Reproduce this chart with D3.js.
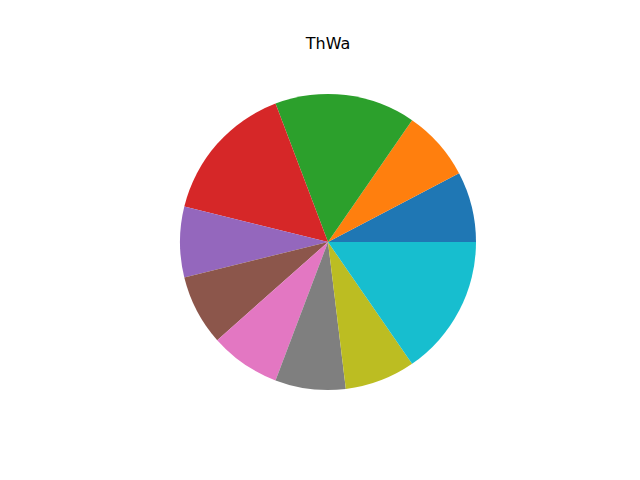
<!DOCTYPE html>
<html>
<head>
<meta charset="utf-8">
<script src="https://cdn.jsdelivr.net/npm/d3@7"></script>
<style>
html,body{margin:0;padding:0;background:#fff;}
svg{display:block;}
</style>
</head>
<body>
<svg id="chart" width="640" height="480"></svg>
<script>
const title = "ThWa";
const categories = ["A","B","C","D","E","F","G","H","I","J"];
const values = [1,1,2,2,1,1,1,1,1,2];
const colors = ["#1f77b4","#ff7f0e","#2ca02c","#d62728","#9467bd","#8c564b","#e377c2","#7f7f7f","#bcbd22","#17becf"];

const svg = d3.select("#chart");
const cx = 328, cy = 242, r = 148;

const pie = d3.pie().sort(null).value(d => d.v)
  .startAngle(Math.PI/2).endAngle(Math.PI/2 - 2*Math.PI);
const arc = d3.arc().innerRadius(0).outerRadius(r);
const data = categories.map((c,i) => ({c, v: values[i], col: colors[i]}));

svg.append("g").attr("transform", `translate(${cx},${cy})`)
  .selectAll("path").data(pie(data)).enter().append("path")
  .attr("d", arc).attr("fill", d => d.data.col);

svg.append("text").attr("x", 328).attr("y", 49)
  .attr("text-anchor", "middle")
  .attr("font-family", "DejaVu Sans, sans-serif")
  .attr("font-size", "16px").attr("fill", "#000")
  .text(title);
</script>
</body>
</html>
